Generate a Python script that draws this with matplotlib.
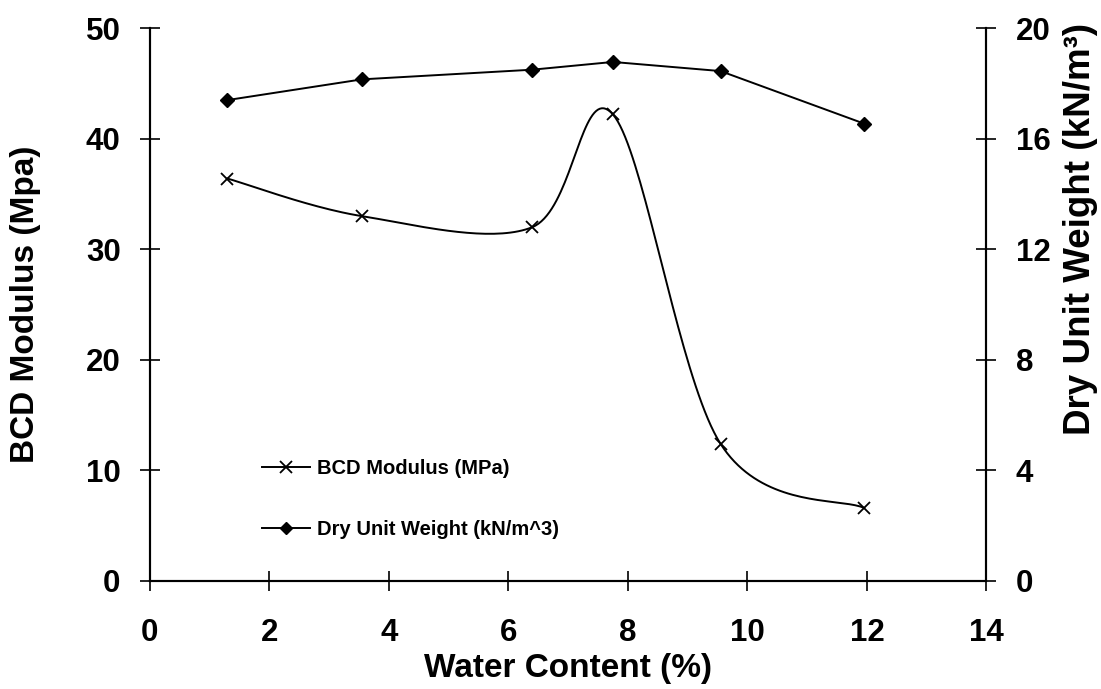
import numpy as np
import matplotlib
matplotlib.use("Agg")
import matplotlib.pyplot as plt

plt.rcParams["font.family"] = ["Liberation Sans", "DejaVu Sans"]
plt.rcParams["font.weight"] = "bold"

water = [1.3, 3.55, 6.4, 7.75, 9.55, 11.95]
bcd_modulus = [36.4, 33.0, 32.0, 42.2, 12.4, 6.6]
dry_unit_weight = [17.4, 18.15, 18.5, 18.78, 18.45, 16.55]


def smooth_curve(xs, ys, sx, sy, n=40):
    # excel-like smoothed line: cubic bezier with 1/6 neighbour tangents
    p = np.column_stack([np.asarray(xs) * sx, np.asarray(ys) * sy])
    ext = np.vstack([p[0], p, p[-1]])
    out = []
    t = np.linspace(0, 1, n)[:, None]
    for i in range(len(p) - 1):
        p0, p1 = ext[i + 1], ext[i + 2]
        c1 = p0 + (ext[i + 2] - ext[i]) / 6
        c2 = p1 - (ext[i + 3] - ext[i + 1]) / 6
        seg = ((1 - t) ** 3) * p0 + 3 * ((1 - t) ** 2) * t * c1 + 3 * (1 - t) * t ** 2 * c2 + t ** 3 * p1
        out.append(seg if i == 0 else seg[1:])
    out = np.vstack(out)
    return out[:, 0] / sx, out[:, 1] / sy


fig = plt.figure(figsize=(11.01, 6.89), dpi=100)
ax = fig.add_axes([0.136, 0.157, 0.76, 0.802])
ax2 = ax.twinx()

sx = 837 / 14
sy = 553 / 50
cx, cy = smooth_curve(water, bcd_modulus, sx, sy)
ax.plot(cx, cy, color="black", lw=1.4)
ax.plot(water, bcd_modulus, ls="none", marker="x", ms=9, mew=1.3, color="black")

ax2.plot(water, dry_unit_weight, color="black", lw=1.4, marker="D", ms=7.5)

ax.set_xlim(0, 14)
ax.set_ylim(0, 50)
ax2.set_ylim(0, 20)
ax.set_xticks(np.arange(0, 15, 2))
ax.set_yticks(np.arange(0, 51, 10))
ax2.set_yticks(np.arange(0, 21, 4))

for a in (ax, ax2):
    a.spines["top"].set_visible(False)
    for s in a.spines.values():
        s.set_linewidth(1.5)
    a.tick_params(direction="inout", length=14, width=1.2, labelsize=22.5, pad=14)
ax.tick_params(axis="x", pad=20)

ax.set_xlabel("Water Content (%)", fontsize=24, fontweight="bold")
ax.set_ylabel("BCD Modulus (Mpa)", fontsize=24, fontweight="bold")
ax2.set_ylabel("Dry Unit Weight (kN/m³)", fontsize=26.5, fontweight="bold")
ax.xaxis.set_label_coords(0.5, -0.13)
ax.yaxis.set_label_coords(-0.13, 0.5)
ax2.yaxis.set_label_coords(1.091, 0.637)

h1 = plt.Line2D([], [], color="black", lw=1.4, marker="x", ms=8, mew=1.3)
h2 = plt.Line2D([], [], color="black", lw=1.4, marker="D", ms=6)
leg = ax2.legend([h1, h2], ["BCD Modulus (MPa)", "Dry Unit Weight (kN/m^3)"],
                 loc="center left", bbox_to_anchor=(0.134, 0.148), frameon=False,
                 prop={"size": 14.5, "weight": "bold"}, labelspacing=2.1,
                 handlelength=2.4, handletextpad=0.35, borderpad=0, borderaxespad=0)

fig.savefig("out.png", dpi=100)
